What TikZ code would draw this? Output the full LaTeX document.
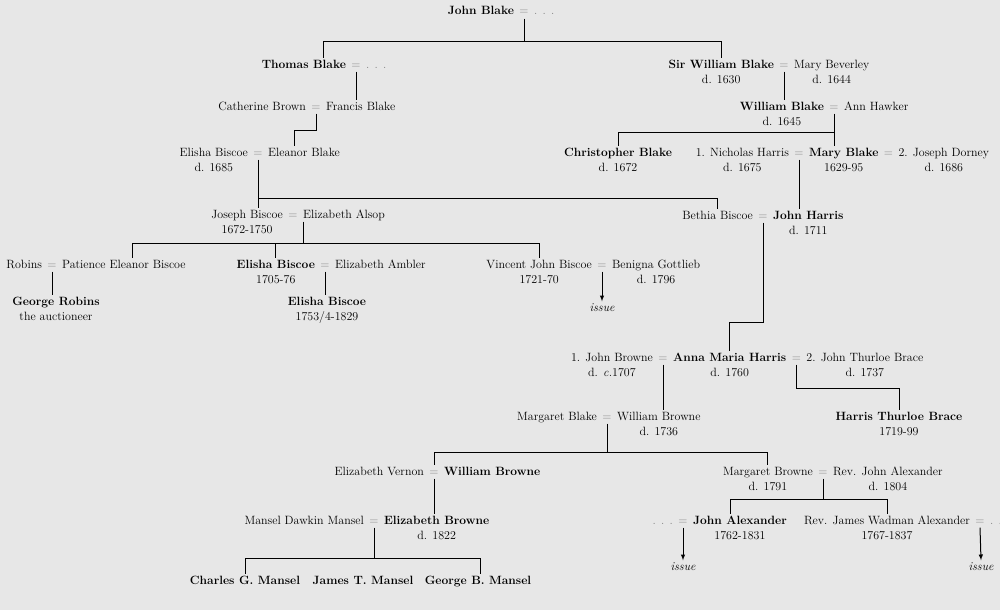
\documentclass[tikz,border=0pt]{standalone}
\usetikzlibrary{positioning}
\definecolor{paper}{RGB}{231,231,231}

\begin{document}
\begin{tikzpicture}[x=1pt, y=-1pt, node distance=2.5pt, line width=1pt,
    pers/.style={inner sep=1pt, text height=8.2pt, text depth=2.2pt, font=\fontsize{12}{14.5}\selectfont},
    main/.style={pers, font=\fontsize{12}{14.5}\selectfont\bfseries},
    eq/.style={pers, text=black!50},
    iss/.style={pers, font=\fontsize{12}{14.5}\selectfont\itshape},
    every label/.style={pers, font=\fontsize{12}{14.5}\selectfont\mdseries},
    label distance=1.6pt]
        \fill[paper] (0,0) rectangle (1000,610);
        \useasboundingbox (0,0) rectangle (1000,610);

        % generation 1
        \node[eq] (e0) at (524,12) {=};
        \node[main, left=of e0] (jbl) {John Blake};
        \node[eq, right=of e0] (d0) {. . .};

        % generation 2
        \node[eq] (e1) at (356,65) {=};
        \node[main, left=of e1] (tbl) {Thomas Blake};
        \node[eq, right=of e1] (d1) {. . .};
        \node[eq] (e2) at (784,65) {=};
        \node[main, left=of e2, label=below:d. 1630] (swb) {Sir William Blake};
        \node[pers, right=of e2, label=below:d. 1644] (mbv) {Mary Beverley};

        % generation 3
        \node[eq] (e3) at (316,107) {=};
        \node[pers, left=of e3] (cbr) {Catherine Brown};
        \node[pers, right=of e3] (fbl) {Francis Blake};
        \node[eq] (e4) at (834,107) {=};
        \node[main, left=of e4, label=below:d. 1645] (wbl) {William Blake};
        \node[pers, right=of e4] (aha) {Ann Hawker};

        % generation 4
        \node[eq] (e5) at (258,153) {=};
        \node[pers, left=of e5, label=below:d. 1685] (ebi) {Elisha Biscoe};
        \node[pers, right=of e5] (ebl) {Eleanor Blake};
        \node[main, label=below:d. 1672] (cbl) at (618,153) {Christopher Blake};
        \node[eq] (e6) at (799,153) {=};
        \node[pers, left=of e6, label=below:d. 1675] (nha) {1. Nicholas Harris};
        \node[main, right=of e6, label=below:1629-95] (mbl) {Mary Blake};
        \node[eq, right=of mbl] (e7) {=};
        \node[pers, right=of e7, label=below:d. 1686] (jdo) {2. Joseph Dorney};

        % generation 5
        \node[eq] (e8) at (293,215) {=};
        \node[pers, left=of e8, label=below:1672-1750] (jbi) {Joseph Biscoe};
        \node[pers, right=of e8] (eal) {Elizabeth Alsop};
        \node[eq] (e9) at (763,216) {=};
        \node[pers, left=of e9] (bbi) {Bethia Biscoe};
        \node[main, right=of e9, label=below:d. 1711] (jha) {John Harris};

        % generation 6
        \node[eq] (e10) at (52,265) {=};
        \node[pers, left=of e10] (rob) {Robins};
        \node[pers, right=of e10] (peb) {Patience Eleanor Biscoe};
        \node[eq] (e11) at (325,265) {=};
        \node[main, left=of e11, label=below:1705-76] (elb) {Elisha Biscoe};
        \node[pers, right=of e11] (eam) {Elizabeth Ambler};
        \node[eq] (e12) at (602,265) {=};
        \node[pers, left=of e12, label=below:1721-70] (vjb) {Vincent John Biscoe};
        \node[pers, right=of e12, label=below:d. 1796] (bgo) {Benigna Gottlieb};
        \node[iss] (is1) at (602,308) {issue};
        \node[main, label=below:the auctioneer] (gro) at (56,302) {George Robins};
        \node[main, label=below:1753/4-1829] (ebj) at (327,302) {Elisha Biscoe};

        % generation 7
        \node[eq] (e13) at (663,358) {=};
        \node[pers, left=of e13, label={below:d. \textit{c.}1707}] (jbr) {1. John Browne};
        \node[main, right=of e13, label=below:d. 1760] (amh) {Anna Maria Harris};
        \node[eq, right=of amh] (e14) {=};
        \node[pers, right=of e14, label=below:d. 1737] (jtb) {2. John Thurloe Brace};
        \node[main, label=below:1719-99] (htb) at (899,417) {Harris Thurloe Brace};

        % generation 8
        \node[eq] (e15) at (607,417) {=};
        \node[pers, left=of e15] (mgb) {Margaret Blake};
        \node[pers, right=of e15, label=below:d. 1736] (wbr) {William Browne};

        % generation 9
        \node[eq] (e16) at (434,472) {=};
        \node[pers, left=of e16] (eve) {Elizabeth Vernon};
        \node[main, right=of e16] (wbn) {William Browne};
        \node[eq] (e17) at (823,472) {=};
        \node[pers, left=of e17, label=below:d. 1791] (mbr) {Margaret Browne};
        \node[pers, right=of e17, label=below:d. 1804] (rja) {Rev. John Alexander};

        % generation 10
        \node[eq] (e18) at (374,521) {=};
        \node[pers, left=of e18] (mdm) {Mansel Dawkin Mansel};
        \node[main, right=of e18, label=below:d. 1822] (ebr) {Elizabeth Browne};
        \node[eq] (e19) at (683,521) {=};
        \node[eq, left=of e19] (d2) {. . .};
        \node[main, right=of e19, label=below:1762-1831] (jal) {John Alexander};
        \node[eq] (e20) at (980,521) {=};
        \node[pers, left=of e20, label=below:1767-1837] (rjw) {Rev. James Wadman Alexander};
        \node[eq, right=of e20] (d3) {. .};
        \node[iss] (is2) at (683,567) {issue};
        \node[iss] (is3) at (981,567) {issue};

        % generation 11
        \node[main] (cgm) at (245,581) {Charles G. Mansel};
        \node[main] (jtm) at (363,581) {James T. Mansel};
        \node[main] (gbm) at (478,581) {George B. Mansel};

        % lines of descent
        \draw (e0.south) -- ++(0,23) coordinate (b1) -| ([xshift=20pt]tbl.north);
        \draw (b1) -| (swb.north);
        \draw (e1.south) -- (e1.south |- fbl.north);
        \draw (e2.south) -- (e2.south |- wbl.north);
        \draw (e3.south) -- ++(0,17) -| ([xshift=-9pt]ebl.north);
        \draw (e4.south) -- (e4.south |- mbl.north);
        \draw (e4.south) ++(0,19) coordinate (b2) -| (cbl.north);
        \draw (e5.south) -- (e5.south |- jbi.north);
        \draw (e5.south) ++(0,39) coordinate (b3) -| (bbi.north);
        \draw (e6.south) -- (e6.south |- jha.north);
        \draw ([xshift=10pt]e8.south) -- ++(0,22) coordinate (b4) -| ([xshift=9pt]peb.north);
        \draw (b4) -| (vjb.north);
        \draw (b4) -| (elb.north);
        \draw (e9.south) -- ++(0,100) -| (amh.north);
        \draw (e10.south) -- (e10.south |- gro.north);
        \draw (e11.south) -- (e11.south |- ebj.north);
        \draw[-latex] (e12.south) -- (is1.north);
        \draw (e13.south) -- (e13.south |- wbr.north);
        \draw (e14.south) -- ++(0,24) -| (htb.north);
        \draw (e15.south) -- ++(0,29) coordinate (b5) -| (e16.north);
        \draw (b5) -| (mbr.north);
        \draw (e16.south) -- (e16.south |- ebr.north);
        \draw (e17.south) -- ++(0,21) coordinate (b6) -| ([xshift=-9pt]jal.north);
        \draw (b6) -| (rjw.north);
        \draw (e18.south) -- ++(0,31) coordinate (b7) -| (cgm.north);
        \draw (b7) -| ([xshift=2pt]gbm.north);
        \draw[-latex] (e19.south) -- (is2.north);
        \draw[-latex] (e20.south) -- (is3.north);
    \end{tikzpicture}
\end{document}
